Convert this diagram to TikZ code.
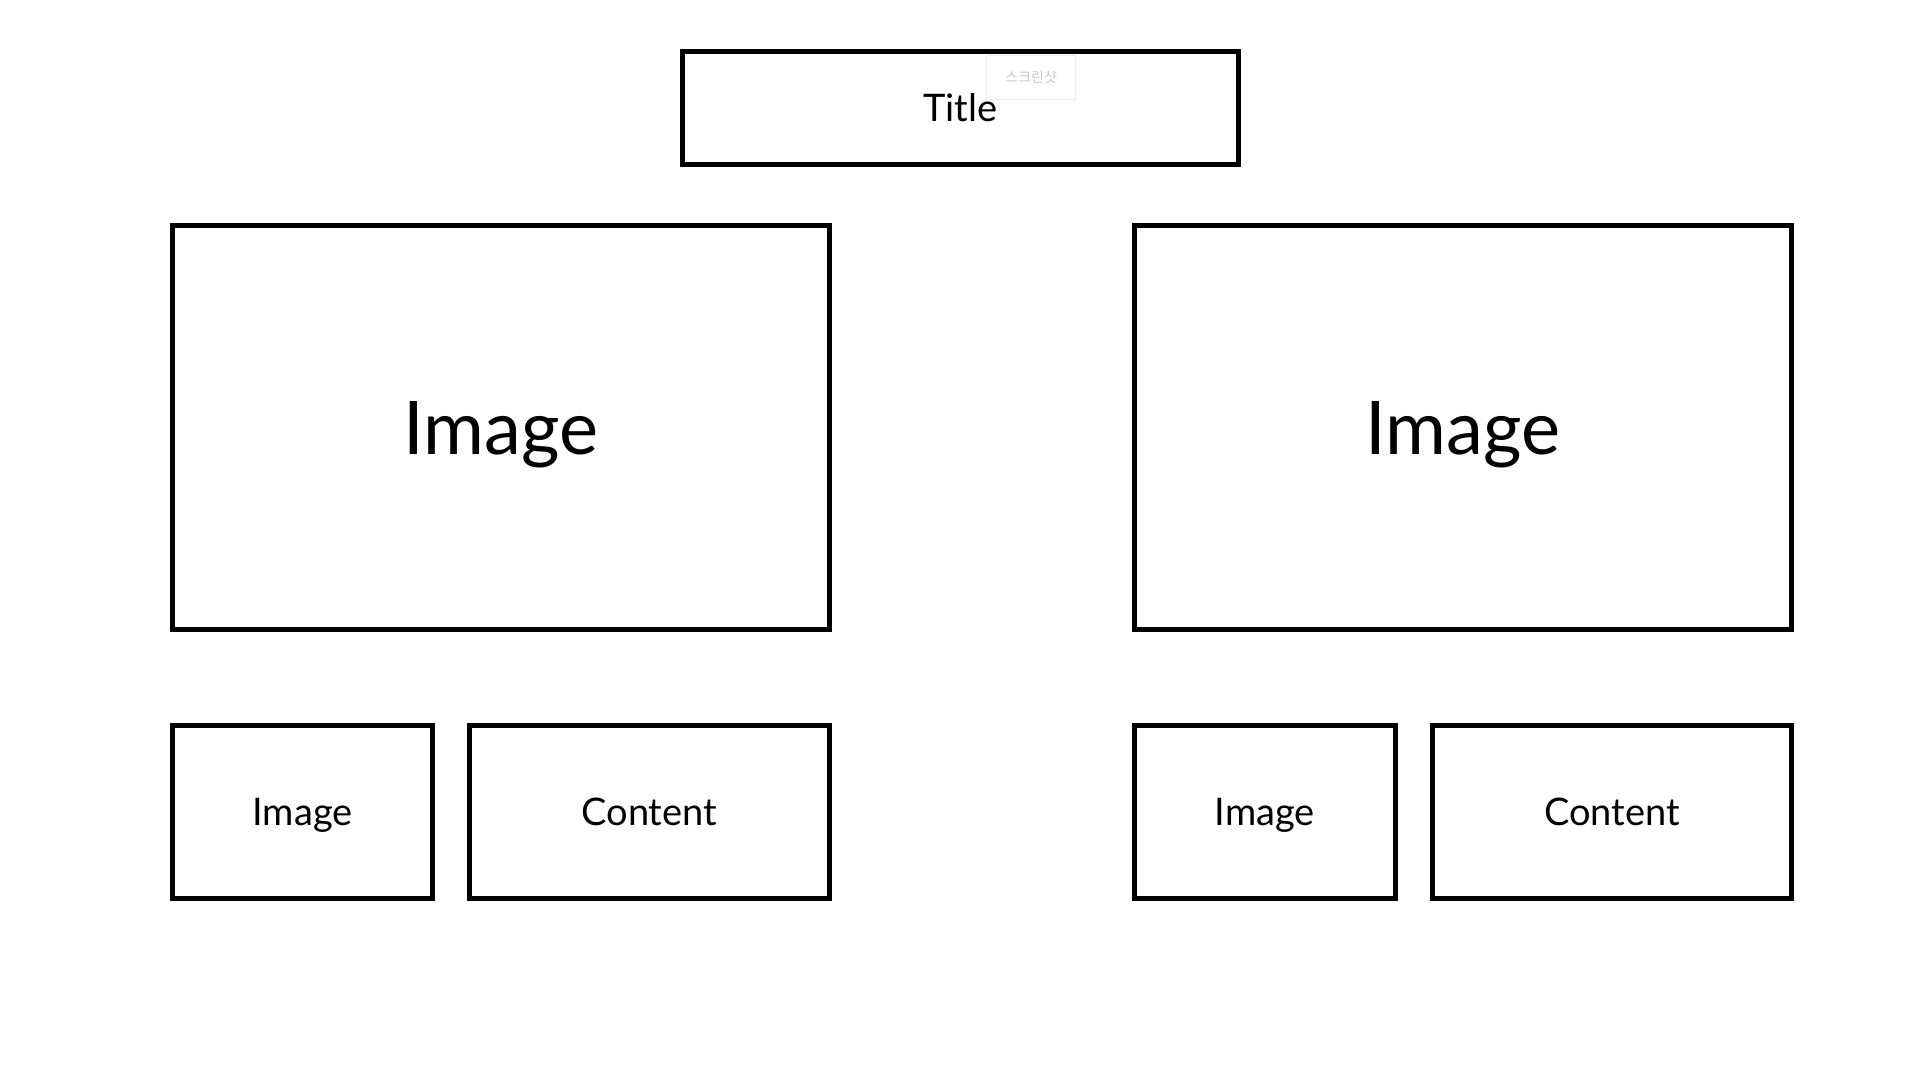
\documentclass[tikz,border=0pt]{standalone}
\usepackage{fontspec}
\setmainfont{Lato}
\newfontfamily\krfont{Noto Sans CJK KR}
\tikzset{
  box/.style={draw=black, line width=5pt, rectangle, inner sep=0pt, text depth=0pt},
  bigtext/.style={font=\fontsize{74pt}{80pt}\selectfont, text height=53pt},
  midtext/.style={font=\fontsize{38pt}{44pt}\selectfont, text height=27pt},
  smalltext/.style={font=\fontsize{38pt}{44pt}\selectfont, text height=27pt}
}
\begin{document}
\begin{tikzpicture}[x=1pt,y=-1pt]
\useasboundingbox (0,0) rectangle (1920,1080);
\node[box, midtext, minimum width=556pt, minimum height=112.5pt] (title) at (960.5,107.75) {Title};
\node[draw={rgb,255:red,238;green,238;blue,238}, line width=1pt, minimum width=89pt, minimum height=44pt, inner sep=0pt, text={rgb,255:red,200;green,200;blue,200}, font=\krfont\fontsize{14pt}{16pt}\selectfont] (wm) at (1031.2,77.2) {스크린샷};
\node[box, bigtext, minimum width=656.5pt, minimum height=404pt] (imgL) at (500.75,427.5) {Image};
\node[box, bigtext, minimum width=656.5pt, minimum height=404pt] (imgR) at (1463,427.5) {Image};
\node[box, smalltext, minimum width=260pt, minimum height=173pt] (simgL) at (302.5,812) {Image};
\node[box, smalltext, minimum width=359.5pt, minimum height=173pt] (contL) at (649.25,812) {Content};
\node[box, smalltext, minimum width=260.5pt, minimum height=173pt] (simgR) at (1264.75,812) {Image};
\node[box, smalltext, minimum width=359pt, minimum height=173pt] (contR) at (1612,812) {Content};
\end{tikzpicture}
\end{document}
